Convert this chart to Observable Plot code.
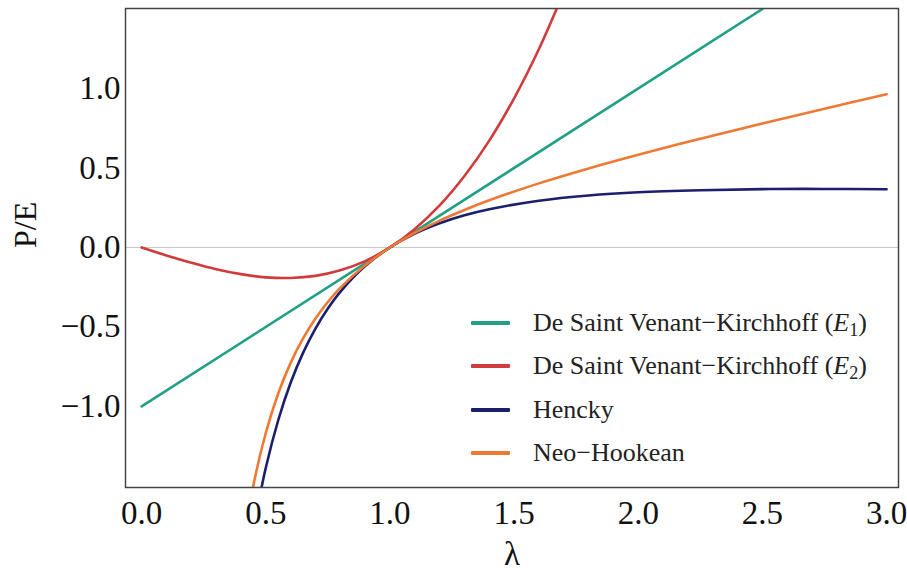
<!DOCTYPE html>
<html>
<head>
<meta charset="utf-8">
<script src="https://cdn.jsdelivr.net/npm/d3@7"></script>
<script src="https://cdn.jsdelivr.net/npm/@observablehq/plot@0.6"></script>
<style>
  html, body { margin: 0; padding: 0; background: #fff; }
  #wrap { position: relative; width: 907px; height: 573px; font-family: "Liberation Serif", "Times New Roman", serif; }
  #legend { position: absolute; left: 471px; top: 301px; font-size: 26px; color: #222; }
  #legend .row { height: 43.5px; display: flex; align-items: center; white-space: nowrap; }
  #legend .sw { width: 39px; height: 4px; margin-right: 23px; border-radius: 1px; }
  #legend sub { font-size: 70%; vertical-align: -0.25em; line-height: 0; }
</style>
</head>
<body>
<div id="wrap"></div>
<script>
// ---- data ----
const seriesNames = [
  "De Saint Venant−Kirchhoff (E1)",
  "De Saint Venant−Kirchhoff (E2)",
  "Hencky",
  "Neo−Hookean"
];
const seriesColors = ["#22a086", "#d23b3b", "#1c1f6c", "#ef7833"];

const lambdaE1 = [0, 2.5];
const pE1 = [-1.0, 1.5];

const lambdaE2 = [0, 0.1, 0.2, 0.3, 0.4, 0.5, 0.6, 0.7, 0.8, 0.9, 1.0, 1.1, 1.2, 1.3, 1.4, 1.5, 1.6, 1.7];
const pE2 = [0, -0.050, -0.096, -0.137, -0.168, -0.188, -0.192, -0.179, -0.144, -0.086, 0, 0.116, 0.264, 0.449, 0.672, 0.938, 1.248, 1.607];

const lambdaH = [0.45, 0.5, 0.55, 0.6, 0.65, 0.7, 0.75, 0.8, 0.9, 1.0, 1.1, 1.2, 1.3, 1.4, 1.6, 1.8, 2.0, 2.25, 2.5, 2.75, 3.0];
const pH = [-1.774, -1.386, -1.087, -0.851, -0.663, -0.510, -0.384, -0.279, -0.117, 0, 0.087, 0.152, 0.202, 0.240, 0.294, 0.327, 0.347, 0.360, 0.367, 0.368, 0.366];

const lambdaNH = [0.4, 0.45, 0.5, 0.55, 0.6, 0.65, 0.7, 0.75, 0.8, 0.9, 1.0, 1.1, 1.2, 1.3, 1.4, 1.6, 1.8, 2.0, 2.25, 2.5, 2.75, 3.0];
const pNH = [-1.950, -1.496, -1.167, -0.919, -0.726, -0.572, -0.447, -0.343, -0.254, -0.112, 0, 0.091, 0.169, 0.236, 0.297, 0.403, 0.497, 0.583, 0.684, 0.780, 0.873, 0.963];

const xTicks = [0, 0.5, 1.0, 1.5, 2.0, 2.5, 3.0];
const yTicks = [-1.0, -0.5, 0, 0.5, 1.0];

// ---- build table ----
const table = [];
[[lambdaE1, pE1], [lambdaE2, pE2], [lambdaH, pH], [lambdaNH, pNH]].forEach(([xs, ys], i) => {
  xs.forEach((x, j) => table.push({series: seriesNames[i], lambda: x, p: ys[j]}));
});

const fmt = d3.format(".1f");
const font = '"Liberation Serif", "Times New Roman", serif';

const chart = Plot.plot({
  width: 907,
  height: 573,
  marginLeft: 125,
  marginRight: 9,
  marginTop: 8,
  marginBottom: 86,
  style: {fontFamily: font, fontSize: "33px", color: "#111", background: "#fff"},
  x: {domain: [-0.065, 3.048]},
  y: {domain: [-1.51, 1.503]},
  color: {domain: seriesNames, range: seriesColors},
  marks: [
    Plot.ruleY([0], {stroke: "#c8c8c8", strokeWidth: 1}),
    Plot.line(table, {x: "lambda", y: "p", z: "series", stroke: "series", strokeWidth: 2.6, curve: "catmull-rom", clip: true}),
    Plot.frame({stroke: "#444", strokeWidth: 1.5}),
    Plot.axisX({ticks: xTicks, tickFormat: fmt, tickSize: 0, tickPadding: 13, label: null, fontSize: 33}),
    Plot.axisY({ticks: yTicks, tickFormat: fmt, tickSize: 0, tickPadding: 5, label: null, fontSize: 33}),
    Plot.text(["λ"], {frameAnchor: "bottom", dy: 77, fontSize: 33}),
    Plot.text(["P/E"], {frameAnchor: "left", dx: -100, rotate: -90, fontSize: 32})
  ]
});

const wrap = document.getElementById("wrap");
wrap.appendChild(chart);

// ---- legend (HTML overlay inside the frame) ----
const legend = document.createElement("div");
legend.id = "legend";
const labelsHtml = [
  "De Saint Venant−Kirchhoff (<i>E</i><sub>1</sub>)",
  "De Saint Venant−Kirchhoff (<i>E</i><sub>2</sub>)",
  "Hencky",
  "Neo−Hookean"
];
seriesNames.forEach((name, i) => {
  const row = document.createElement("div");
  row.className = "row";
  row.innerHTML = `<span class="sw" style="background:${seriesColors[i]}"></span><span>${labelsHtml[i]}</span>`;
  legend.appendChild(row);
});
wrap.appendChild(legend);
</script>
</body>
</html>
